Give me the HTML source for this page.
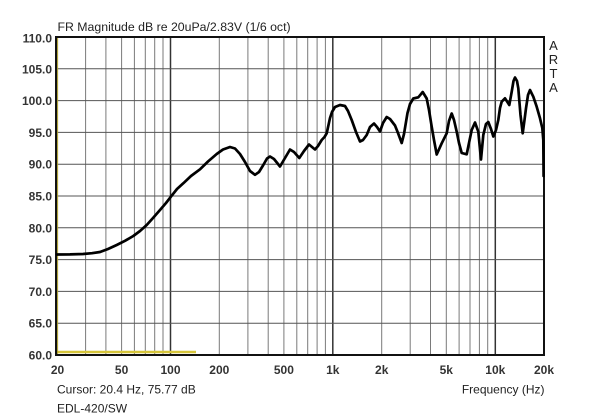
<!DOCTYPE html>
<html><head><meta charset="utf-8"><style>
html,body{margin:0;padding:0;background:#fff;}
svg{display:block;}
text{font-family:"Liberation Sans",Arial,sans-serif;}
</style></head><body>
<svg width="600" height="419" viewBox="0 0 600 419" xmlns="http://www.w3.org/2000/svg">
<rect width="600" height="419" fill="#fff"/>
<!-- minor vertical grid -->
<g stroke="#7a7a7a" stroke-width="1">
<line x1="85.6" y1="37" x2="85.6" y2="355"/>
<line x1="105.9" y1="37" x2="105.9" y2="355"/>
<line x1="121.6" y1="37" x2="121.6" y2="355"/>
<line x1="134.4" y1="37" x2="134.4" y2="355"/>
<line x1="145.3" y1="37" x2="145.3" y2="355"/>
<line x1="154.7" y1="37" x2="154.7" y2="355"/>
<line x1="163.0" y1="37" x2="163.0" y2="355"/>
<line x1="219.3" y1="37" x2="219.3" y2="355"/>
<line x1="247.9" y1="37" x2="247.9" y2="355"/>
<line x1="268.2" y1="37" x2="268.2" y2="355"/>
<line x1="283.9" y1="37" x2="283.9" y2="355"/>
<line x1="296.8" y1="37" x2="296.8" y2="355"/>
<line x1="307.7" y1="37" x2="307.7" y2="355"/>
<line x1="317.1" y1="37" x2="317.1" y2="355"/>
<line x1="325.4" y1="37" x2="325.4" y2="355"/>
<line x1="381.7" y1="37" x2="381.7" y2="355"/>
<line x1="410.2" y1="37" x2="410.2" y2="355"/>
<line x1="430.5" y1="37" x2="430.5" y2="355"/>
<line x1="446.3" y1="37" x2="446.3" y2="355"/>
<line x1="459.1" y1="37" x2="459.1" y2="355"/>
<line x1="470.0" y1="37" x2="470.0" y2="355"/>
<line x1="479.4" y1="37" x2="479.4" y2="355"/>
<line x1="487.7" y1="37" x2="487.7" y2="355"/>
</g>
<g stroke="#333" stroke-width="1.5">
<line x1="170.5" y1="37" x2="170.5" y2="355"/>
<line x1="332.8" y1="37" x2="332.8" y2="355"/>
<line x1="495.3" y1="37" x2="495.3" y2="355"/>
</g>
<!-- horizontal grid -->
<g stroke="#555" stroke-width="1">
<line x1="57" y1="68.8" x2="544" y2="68.8"/>
<line x1="57" y1="100.6" x2="544" y2="100.6"/>
<line x1="57" y1="132.4" x2="544" y2="132.4"/>
<line x1="57" y1="164.2" x2="544" y2="164.2"/>
<line x1="57" y1="196" x2="544" y2="196"/>
<line x1="57" y1="227.8" x2="544" y2="227.8"/>
<line x1="57" y1="259.6" x2="544" y2="259.6"/>
<line x1="57" y1="291.4" x2="544" y2="291.4"/>
<line x1="57" y1="323.2" x2="544" y2="323.2"/>
</g>
<!-- yellow cursor lines -->
<line x1="196" y1="352" x2="57" y2="352" stroke="#d6c53a" stroke-width="2.5"/>
<!-- border -->
<rect x="56" y="37" width="488" height="318" fill="none" stroke="#111" stroke-width="2"/>
<line x1="57.6" y1="38" x2="57.6" y2="354" stroke="#a89a2a" stroke-width="1"/>
<!-- curve -->
<polyline fill="none" stroke="#000" stroke-width="2.7" stroke-linejoin="round" stroke-linecap="round" points="
57,254.5 70,254.4 83,254 92,253.2 100,252 108,249 116.7,245 125,240.8 133.3,236 140,231 146.7,225 153,218 160,210 166,203 171.7,195.7 177,189 183.3,183.3 191,176 200,169.3 208,161.5 216.7,154 223,149.5 230,147 235,148.5 240,154 245,162 250,171 255,174.8 259,172 263.3,165 267,158.5 270,156.5 274,159 280,166.5 285,158 290,149.5 294,152 299.3,158 304,151 309,144.5 312,147 315,149.5 318,146 321.7,140 324.5,137 326.7,133.3 328.5,125 330,118 332,112 335,107 340,105 345,106 348,111 351.7,120 356,132 360,141.5 363,140 366.7,135 370,127 374,123.5 377,127 380,131.5 383,123 386.7,117 390,119 395,125.5 398,133 401.7,143 404,134 407.5,113 410,104 413.3,98.5 418.3,97.3 422.7,92 426.7,98.5 429,110 431.7,126.7 434,140 436.7,154.5 441.7,143.3 446.7,133.3 449,121 451.7,113.5 454,120 456.7,131.7 459,143 461.7,153 466.7,154.3 469,143 471.7,130 475,122.5 478.3,131.7 481,159.5 483.3,135 486,124 488.3,122 491,129 493.3,136.5 496,130 498.3,120 500,108 501.7,101.7 505,98.3 509.3,105 511.7,91.7 513.5,81 515,77.5 517,81 518.3,88.3 520.5,115 522.7,133.3 524.5,120 526,108.3 528,95 530,90 533.3,96.7 536.7,106.7 540,118.3 542.3,128 543.3,140 543.6,176"/>
<!-- title -->
<text x="57.5" y="31" font-size="12.3" fill="#222">FR Magnitude dB re 20uPa/2.83V (1/6 oct)</text>
<!-- y labels -->
<g font-size="12" font-weight="bold" fill="#333" text-anchor="end">
<text x="52" y="42.5">110.0</text>
<text x="52" y="73.3">105.0</text>
<text x="52" y="105.1">100.0</text>
<text x="52" y="136.9">95.0</text>
<text x="52" y="168.7">90.0</text>
<text x="52" y="200.5">85.0</text>
<text x="52" y="232.3">80.0</text>
<text x="52" y="264.1">75.0</text>
<text x="52" y="295.9">70.0</text>
<text x="52" y="327.7">65.0</text>
<text x="52" y="359.5">60.0</text>
</g>
<!-- x labels -->
<g font-size="12" font-weight="bold" fill="#333" text-anchor="middle">
<text x="57.5" y="374">20</text>
<text x="121.6" y="374">50</text>
<text x="170.5" y="374">100</text>
<text x="219.3" y="374">200</text>
<text x="283.9" y="374">500</text>
<text x="332.8" y="374">1k</text>
<text x="381.7" y="374">2k</text>
<text x="446.3" y="374">5k</text>
<text x="495.3" y="374">10k</text>
<text x="544" y="374">20k</text>
</g>
<text x="57" y="393.5" font-size="12" fill="#222">Cursor: 20.4 Hz, 75.77 dB</text>
<text x="57" y="412.5" font-size="12" fill="#222">EDL-420/SW</text>
<text x="544.5" y="393.5" font-size="12" fill="#222" text-anchor="end">Frequency (Hz)</text>
<!-- ARTA -->
<g font-size="13" fill="#222" text-anchor="middle">
<text x="553.5" y="50">A</text>
<text x="553.5" y="64">R</text>
<text x="553.5" y="78">T</text>
<text x="553.5" y="92">A</text>
</g>
</svg>
</body></html>
